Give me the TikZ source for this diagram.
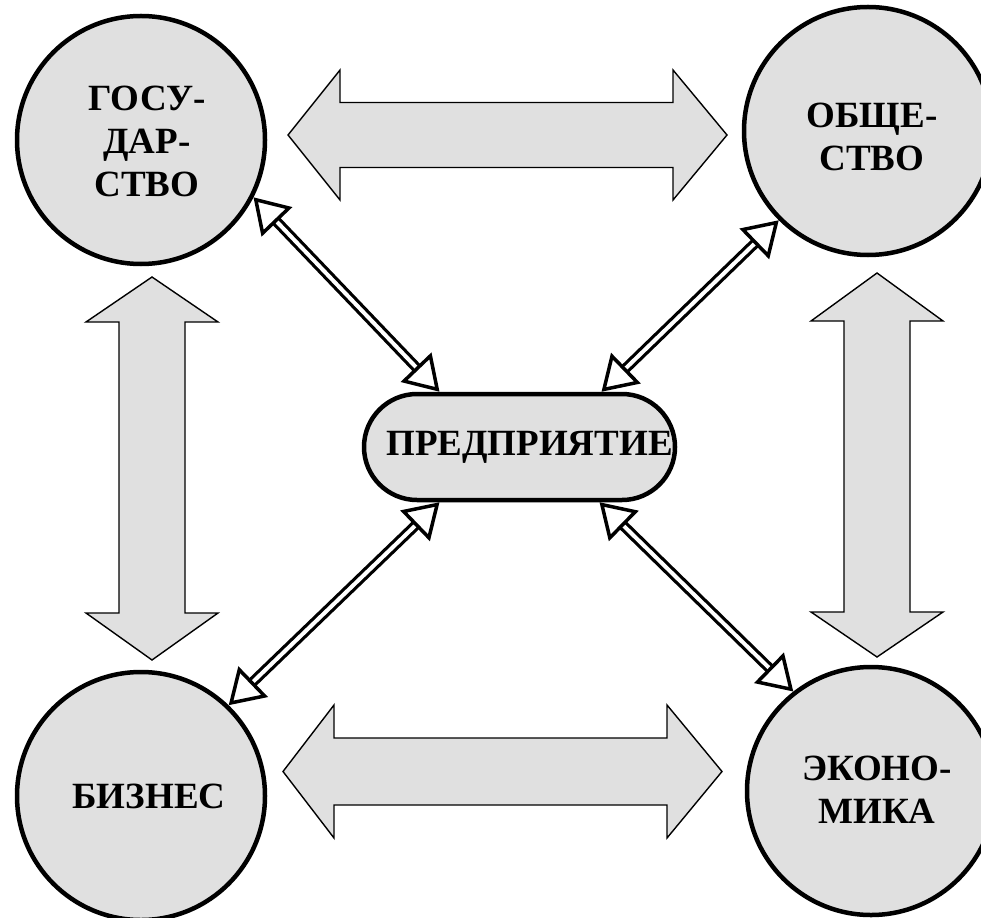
\documentclass[tikz,border=0pt]{standalone}
\usepackage{fontspec}
\setmainfont{Liberation Serif}
\usetikzlibrary{arrows.meta,calc}
\definecolor{fillgray}{HTML}{E0E0E0}
\begin{document}
\begin{tikzpicture}[x=1pt,y=-1pt,
  ent/.style={circle,draw,line width=4.5pt,fill=fillgray,minimum size=248pt,inner sep=0pt},
  lbl/.style={font=\fontsize{37}{43}\selectfont\bfseries,align=center,inner sep=0pt},
  pnode/.style={rectangle,draw,line width=4.5pt,fill=fillgray,rounded corners=53pt,
     minimum width=311pt,minimum height=106pt,inner sep=0pt,font=\fontsize{37}{43}\selectfont\bfseries},
  blockarr/.style={draw,line width=1.4pt,fill=fillgray,line join=miter},
  link/.style={line width=3.2pt,double=white,double distance=4pt,
     {Triangle[length=34pt,width=42pt,fill=white,line width=3.5pt]}-{Triangle[length=34pt,width=42pt,fill=white,line width=3.5pt]}}
]
\useasboundingbox (0,0) rectangle (981,917);

% block arrows
\draw[blockarr] (288,135) -- (340,70) -- (340,102.5) -- (673,102.5) -- (673,70) -- (727,135)
  -- (673,200) -- (673,167.5) -- (340,167.5) -- (340,200) -- cycle;
\draw[blockarr] (283,771.5) -- (334,705) -- (334,738) -- (667,738) -- (667,705) -- (722,771.5)
  -- (667,838) -- (667,805) -- (334,805) -- (334,838) -- cycle;
\draw[blockarr] (152,277) -- (86,322) -- (119,322) -- (119,613) -- (86,613) -- (152,660)
  -- (218,613) -- (185,613) -- (185,322) -- (218,322) -- cycle;
\draw[blockarr] (877,273) -- (811,321) -- (844,321) -- (844,612) -- (811,612) -- (877,657)
  -- (943,612) -- (910,612) -- (910,321) -- (943,321) -- cycle;

% entities
\node[ent] (g) at (141,140) {};
\node[ent] (o) at (868,131) {};
\node[ent] (b) at (141,796) {};
\node[ent] (e) at (871,791) {};
\node[pnode] (p) at (519.5,447) {\hspace*{20pt}ПРЕДПРИЯТИЕ};

\node[lbl] (gt) at (147,141) {ГОСУ-\\ДАР-\\СТВО};
\node[lbl] (ot) at (872,137) {ОБЩЕ-\\СТВО};
\node[lbl] (bt) at (149,796) {БИЗНЕС};
\node[lbl] (et) at (877,790) {ЭКОНО-\\МИКА};

% links
\draw[link] (g.-27) -- ($(p.north)+(-80,0)$);
\draw[link] (o.-135) -- ($(p.north)+(82,0)$);
\draw[link] (b.46) -- ($(p.south)+(-80,0)$);
\draw[link] (e.128) -- ($(p.south)+(80,0)$);
\end{tikzpicture}
\end{document}
